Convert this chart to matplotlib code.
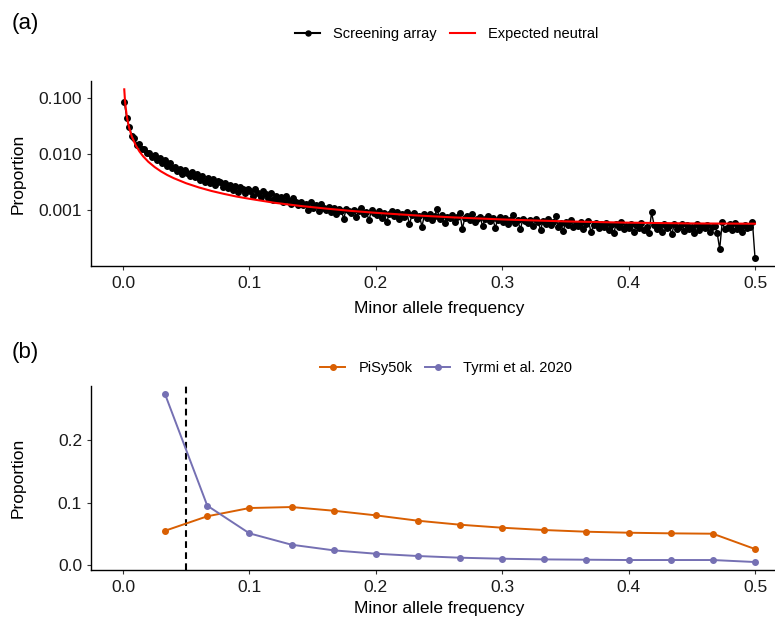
import numpy as np
import matplotlib
matplotlib.use('Agg')
import matplotlib.pyplot as plt
from matplotlib.lines import Line2D
from matplotlib.ticker import FixedLocator, FormatStrFormatter, NullLocator

plt.rcParams['font.family'] = ['Liberation Sans', 'DejaVu Sans']

# (a) SFS du screening array, pas de ~0.002 de 0.001 a 0.5
screening = [
    0.085, 0.044, 0.030, 0.021, 0.0190, 0.0145, 0.0148, 0.0122, 0.0124, 0.0103,
    0.0105, 0.0088, 0.0094, 0.0079, 0.0086, 0.0070, 0.0078, 0.0061, 0.0068, 0.0057,
    0.0059, 0.0050, 0.0054, 0.0043, 0.0051, 0.0046, 0.0041, 0.0047, 0.0038, 0.0043,
    0.0034, 0.0040, 0.0032, 0.0037, 0.0030, 0.0035, 0.0028, 0.0033, 0.0031, 0.0026,
    0.0030, 0.0025, 0.0028, 0.0023, 0.0027, 0.0021, 0.0026, 0.0024, 0.0020, 0.0024,
    0.0022, 0.0018, 0.0024, 0.0020, 0.0017, 0.0022, 0.0019, 0.0016, 0.0020, 0.0015,
    0.0018, 0.0015, 0.0017, 0.0014, 0.0018, 0.0015, 0.0013, 0.0016, 0.0014, 0.0012,
    0.0014, 0.0012, 0.0013, 0.0010, 0.0014, 0.0011, 0.0012, 0.00095, 0.0013, 0.0011,
    0.00100, 0.00115, 0.00092, 0.00108, 0.00085, 0.00102, 0.00096, 0.00070, 0.00105, 0.00094,
    0.00088, 0.00101, 0.00076, 0.00096, 0.00110, 0.00083, 0.00091, 0.00066, 0.00098, 0.00087,
    0.00080, 0.00094, 0.00072, 0.00089, 0.00060, 0.00085, 0.00097, 0.00078, 0.00090, 0.00068,
    0.00083, 0.00074, 0.00092, 0.00055, 0.00080, 0.00088, 0.00070, 0.00079, 0.00050, 0.00084,
    0.00073, 0.00086, 0.00065, 0.00078, 0.00105, 0.00069, 0.00082, 0.00058, 0.00076, 0.00071,
    0.00080, 0.00062, 0.00074, 0.00088, 0.00046, 0.00072, 0.00078, 0.00067, 0.00083, 0.00060,
    0.00070, 0.00076, 0.00052, 0.00068, 0.00079, 0.00064, 0.00073, 0.00048, 0.00066, 0.00075,
    0.00062, 0.00071, 0.00056, 0.00067, 0.00080, 0.00059, 0.00065, 0.00045, 0.00069, 0.00063,
    0.00058, 0.00066, 0.00052, 0.00070, 0.00061, 0.00044, 0.00064, 0.00057, 0.00068, 0.00053,
    0.00060, 0.00078, 0.00050, 0.00058, 0.00042, 0.00062, 0.00054, 0.00065, 0.00049, 0.00057,
    0.00052, 0.00061, 0.00046, 0.00055, 0.00063, 0.00040, 0.00053, 0.00058, 0.00047, 0.00056,
    0.00050, 0.00059, 0.00044, 0.00054, 0.00038, 0.00057, 0.00049, 0.00060, 0.00045, 0.00052,
    0.00048, 0.00055, 0.00041, 0.00053, 0.00047, 0.00058, 0.00043, 0.00050, 0.00039, 0.00090,
    0.00054, 0.00046, 0.00052, 0.00040, 0.00056, 0.00048, 0.00051, 0.00037, 0.00055, 0.00045,
    0.00049, 0.00057, 0.00042, 0.00053, 0.00046, 0.00050, 0.00038, 0.00055, 0.00044, 0.00051,
    0.00047, 0.00054, 0.00041, 0.00049, 0.00052, 0.00039, 0.00020, 0.00060, 0.00046, 0.00048,
    0.00056, 0.00043, 0.00058, 0.00045, 0.00052, 0.00040, 0.00054, 0.00047, 0.00050, 0.00060,
    0.00014,
]
maf_screen = np.linspace(0.001, 0.5, len(screening))

# courbe neutre attendue
neutral_maf = [0.001, 0.0015, 0.002, 0.003, 0.004, 0.005, 0.007, 0.01, 0.013, 0.016,
               0.02, 0.025, 0.03, 0.035, 0.04, 0.05, 0.06, 0.07, 0.08, 0.09, 0.10,
               0.12, 0.14, 0.16, 0.18, 0.20, 0.23, 0.26, 0.30, 0.35, 0.40, 0.45, 0.50]
neutral = [0.142, 0.0948, 0.0711, 0.0474, 0.0357, 0.0285, 0.0204, 0.01434, 0.01106, 0.00902,
           0.00724, 0.00583, 0.00488, 0.00420, 0.00370, 0.00299, 0.00252, 0.00218, 0.00193,
           0.00173, 0.00158, 0.00134, 0.00118, 0.00106, 0.000962, 0.000888, 0.000802,
           0.000738, 0.000676, 0.000624, 0.000592, 0.000574, 0.000568]

# (b) classes de frequence (1/30 ... 15/30)
bins_maf = np.arange(1, 16) / 30
pisy = [0.0549, 0.078, 0.0912, 0.0928, 0.0869, 0.0795, 0.0709, 0.0645, 0.0597,
        0.056, 0.0533, 0.0517, 0.0507, 0.0501, 0.0256]
tyrmi = [0.273, 0.095, 0.0507, 0.0325, 0.0235, 0.0181, 0.0144, 0.0117, 0.0101,
         0.009, 0.0085, 0.008, 0.008, 0.008, 0.0048]

W, H = 775, 619
fig = plt.figure(figsize=(W / 100, H / 100), dpi=100)


def style(ax):
    for s in ['top', 'right']:
        ax.spines[s].set_visible(False)
    for s in ['left', 'bottom']:
        ax.spines[s].set_linewidth(1.0)
        ax.spines[s].set_color('black')
    ax.tick_params(direction='out', length=2.75, width=0.8, color='#333333',
                   labelsize=12.5, labelcolor='#1a1a1a', pad=4)
    ax.set_xlim(-0.025, 0.525)
    ax.xaxis.set_major_locator(FixedLocator([0, 0.1, 0.2, 0.3, 0.4, 0.5]))
    ax.xaxis.set_major_formatter(FormatStrFormatter('%.1f'))
    ax.xaxis.set_minor_locator(NullLocator())


# panel (a)
ax1 = fig.add_axes([91.4 / W, 1 - 266.2 / H, 695.2 / W, 185.2 / H])
ax1.plot(maf_screen, screening, color='black', lw=1, marker='o', ms=4)
ax1.plot(neutral_maf, neutral, color='red', lw=1.5)
ax1.set_yscale('log')
ax1.set_ylim(9.9e-5, 0.2)
style(ax1)
ax1.yaxis.set_major_locator(FixedLocator([0.001, 0.01, 0.1]))
ax1.yaxis.set_major_formatter(FormatStrFormatter('%.3f'))
ax1.yaxis.set_minor_locator(NullLocator())
ax1.set_xlabel('Minor allele frequency', fontsize=12.5)
ax1.set_ylabel('Proportion', fontsize=12.5)
ax1.xaxis.set_label_coords(0.5, -0.19)
ax1.yaxis.set_label_coords(-0.094, 0.5)

# panel (b)
ax2 = fig.add_axes([91.4 / W, 1 - 570.4 / H, 695.2 / W, 184.4 / H])
ax2.axvline(0.05, color='black', lw=1.5, ls=(0, (3.2, 2.1)))
ax2.plot(bins_maf, pisy, color='#D95F02', lw=1.4, marker='o', ms=4)
ax2.plot(bins_maf, tyrmi, color='#7570B3', lw=1.4, marker='o', ms=4)
ax2.set_ylim(-0.0086, 0.2865)
style(ax2)
ax2.yaxis.set_major_locator(FixedLocator([0, 0.1, 0.2]))
ax2.yaxis.set_major_formatter(FormatStrFormatter('%.1f'))
ax2.set_xlabel('Minor allele frequency', fontsize=12.5)
ax2.set_ylabel('Proportion', fontsize=12.5)
ax2.xaxis.set_label_coords(0.5, -0.165)
ax2.yaxis.set_label_coords(-0.094, 0.5)

# legendes
h_a = [Line2D([], [], color='black', lw=1.5, marker='o', ms=3.6),
       Line2D([], [], color='red', lw=1.5)]
fig.legend(h_a, ['Screening array', 'Expected neutral'], loc='center',
           bbox_to_anchor=(446.6 / W, 1 - 34.3 / H), ncol=2, frameon=False,
           fontsize=10.5, handlelength=1.7, handletextpad=0.9, columnspacing=0.9)
h_b = [Line2D([], [], color='#D95F02', lw=1.4, marker='o', ms=4),
       Line2D([], [], color='#7570B3', lw=1.4, marker='o', ms=4)]
fig.legend(h_b, ['PiSy50k', 'Tyrmi et al. 2020'], loc='center',
           bbox_to_anchor=(446.4 / W, 1 - 368.3 / H), ncol=2, frameon=False,
           fontsize=10.5, handlelength=1.7, handletextpad=0.9, columnspacing=0.9)

fig.text(12 / W, 1 - 23 / H, '(a)', fontsize=16, ha='left', va='center')
fig.text(12 / W, 1 - 352 / H, '(b)', fontsize=16, ha='left', va='center')

fig.savefig('out.png', dpi=100)
